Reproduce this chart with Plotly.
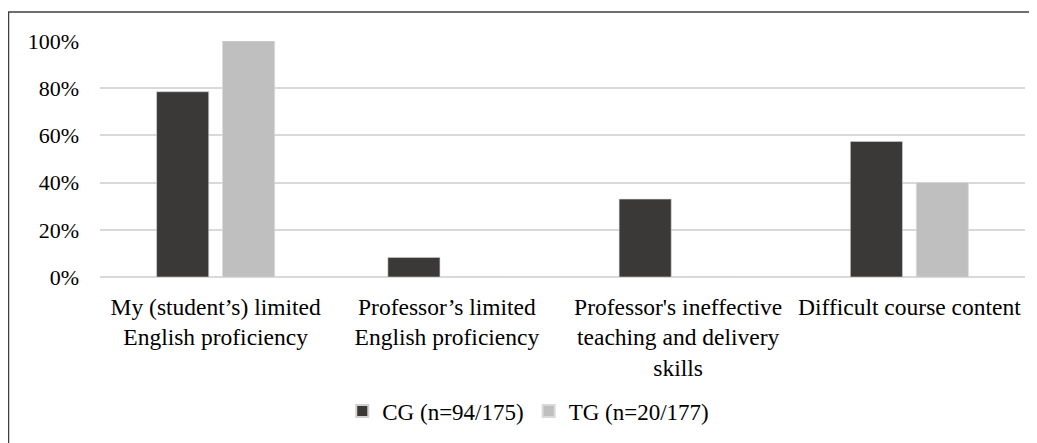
import plotly.graph_objects as go

categories = [
    "My (student’s) limited<br>English proficiency",
    "Professor’s limited<br>English proficiency",
    "Professor's ineffective<br>teaching and delivery<br>skills",
    "Difficult course content",
]
cg_values = [0.785, 0.083, 0.33, 0.574]
tg_values = [1.0, 0.0, 0.0, 0.40]
series_names = ["CG (n=94/175)", "TG (n=20/177)"]
y_ticks = [0, 0.2, 0.4, 0.6, 0.8, 1.0]
y_tick_labels = ["0%", "20%", "40%", "60%", "80%", "100%"]

FONT = "Liberation Serif, Times New Roman, serif"

fig = go.Figure()
fig.add_trace(go.Bar(x=categories, y=cg_values, name=series_names[0],
                     marker=dict(color="#3a3938", line=dict(color="#d0d0d0", width=0.6))))
fig.add_trace(go.Bar(x=categories, y=tg_values, name=series_names[1],
                     marker=dict(color="#bfbfbf", line=dict(color="#d9d9d9", width=0.6))))

fig.update_layout(
    width=1029, height=435,
    margin=dict(l=92, r=12, t=33, b=165),
    paper_bgcolor="white", plot_bgcolor="white",
    barmode="group", bargap=0.43, bargroupgap=0.21,
    font=dict(family=FONT, size=23, color="#000000"),
    showlegend=True,
    legend=dict(orientation="h", x=0.463, xanchor="center", y=-0.561, yanchor="middle",
                font=dict(family=FONT, size=23), itemwidth=30, tracegroupgap=0,
                itemsizing="constant"),
    shapes=[dict(type="rect", xref="paper", yref="paper",
                 x0=-0.0989, x1=1.05, y0=-0.9, y1=1.1224,
                 line=dict(color="#404040", width=1.5), layer="below")],
)
fig.update_xaxes(showgrid=False, showline=False, ticks="", ticklabelstandoff=13,
                 tickfont=dict(size=23.5))
fig.update_yaxes(range=[0, 1.0], tickvals=y_ticks, ticktext=y_tick_labels,
                 showgrid=True, gridcolor="#d9d9d9", gridwidth=1.5,
                 zeroline=True, zerolinecolor="#d9d9d9", zerolinewidth=1.5,
                 showline=False, ticks="", ticklabelstandoff=20,
                 tickfont=dict(size=22))

fig.write_html("out.html")
